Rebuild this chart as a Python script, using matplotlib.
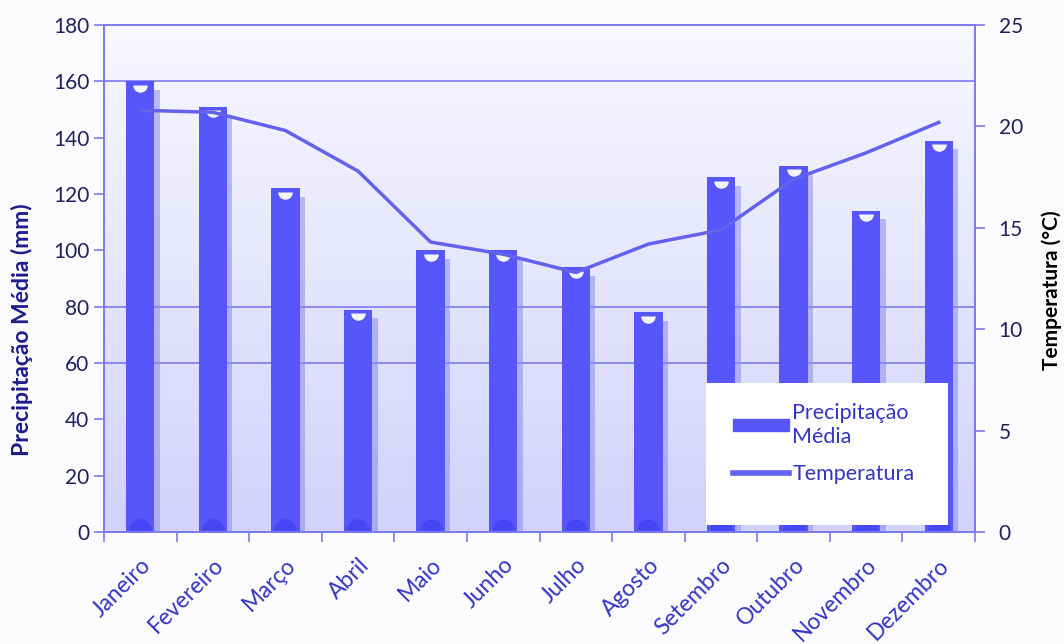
import matplotlib as mpl
import matplotlib.pyplot as plt
import numpy as np
from matplotlib.patches import Rectangle
from matplotlib.path import Path

mpl.use("Agg")

meses = ["Janeiro", "Fevereiro", "Março", "Abril", "Maio", "Junho",
         "Julho", "Agosto", "Setembro", "Outubro", "Novembro", "Dezembro"]
precipitacao = [160, 151, 122, 79, 100, 100, 94, 78, 126, 130, 114, 139]
temperatura = [20.8, 20.7, 19.8, 17.8, 14.3, 13.7, 12.8, 14.2, 14.9, 17.4, 18.7, 20.2]

plt.rcParams["font.family"] = ["Lato", "DejaVu Sans"]

AZUL = "#5656fa"
LINHA = "#6262ee"
EIXO = "#7a7af2"

fig = plt.figure(figsize=(10.64, 6.44), dpi=100, facecolor="#fcfcff")
ax = fig.add_axes([0.0977, 0.174, 0.8187, 0.787])
ax2 = ax.twinx()

x = np.arange(len(meses))

# fundo em degradê
grad = np.linspace(0, 1, 256).reshape(-1, 1)
cmap = mpl.colors.LinearSegmentedColormap.from_list("fundo", ["#f8f8ff", "#d2d2fb"])
ax.imshow(grad, extent=(-0.5, 11.5, 0, 180), aspect="auto", cmap=cmap,
          origin="upper", zorder=0)

# linhas de grade visíveis
for g in [60, 80, 160]:
    ax.axhline(g, color=EIXO, lw=1.2, zorder=1)

# sombra e barras
ax.bar(x + 0.07, np.array(precipitacao) - 3, width=0.4, color="#8a8af6",
       alpha=0.55, zorder=2, linewidth=0)
ax.bar(x, precipitacao, width=0.39, color=AZUL, zorder=3, linewidth=0)
meia_lua = Path.wedge(180, 360)
ax.scatter(x, np.array(precipitacao) - 1.2, s=110, marker=meia_lua, color="#f4f4ff",
           zorder=4, linewidths=0)
ax.scatter(x, np.full(len(x), 0.8), s=260, marker=Path.wedge(0, 180), color="#3c3cf0",
           zorder=4, linewidths=0, alpha=0.6)

ax2.plot(x, temperatura, color=LINHA, lw=2.5, zorder=5)

ax.set_xlim(-0.5, 11.5)
ax.set_ylim(0, 180)
ax2.set_ylim(0, 25)
ax.set_yticks(np.arange(0, 181, 20))
ax2.set_yticks(np.arange(0, 26, 5))

ax.set_xticks(x)
ax.set_xticklabels(meses, rotation=45, ha="right", rotation_mode="anchor",
                   fontsize=16.5, color="#3434c4")
ax.set_xticks(np.arange(-0.5, 12, 1), minor=True)
ax.tick_params(axis="x", which="major", length=0, pad=16)
ax.tick_params(axis="x", which="minor", length=7, color=EIXO, width=1.2)
ax.tick_params(axis="y", length=7, color=EIXO, width=1.2, labelsize=15,
               labelcolor="#20205c")
ax2.tick_params(axis="y", length=7, color=EIXO, width=1.2, labelsize=15,
                labelcolor="#20205c", pad=10)

for a in (ax, ax2):
    for s in a.spines.values():
        s.set_color(EIXO)
        s.set_linewidth(1.2)

ax.set_ylabel("Precipitação Média (mm)", fontsize=16.5, fontweight="bold",
              color="#1c1c8c")
ax.yaxis.set_label_coords(-0.081, 0.40)
ax2.set_ylabel("Temperatura (°C)", fontsize=15, fontweight="bold",
               color="black")
ax2.yaxis.set_label_coords(1.076, 0.477)

# legenda
caixa = Rectangle((0.691, 0.014), 0.278, 0.28, transform=ax.transAxes,
                  facecolor="white", edgecolor="none", zorder=6)
ax2.add_patch(caixa)
h1 = mpl.patches.Patch(color=AZUL)
h2 = mpl.lines.Line2D([], [], color=LINHA, lw=4)
leg = ax2.legend([h1, h2], ["Precipitação\nMédia", "Temperatura"],
                 loc="upper left", bbox_to_anchor=(0.7, 0.292), frameon=False,
                 fontsize=15.5, handlelength=2.6, handleheight=0.5,
                 handletextpad=0.15, labelspacing=0.8, labelcolor="#3434c4")
leg.set_zorder(7)

plt.savefig("out.png", dpi=100, facecolor=fig.get_facecolor())
